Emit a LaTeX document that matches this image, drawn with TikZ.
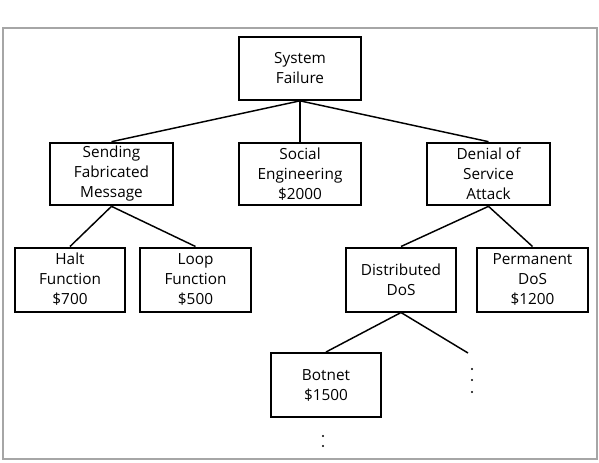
\documentclass[tikz,border=0pt]{standalone}
\usepackage{fontspec}
\setmainfont{Open Sans}
\usepackage{tikz}
\usetikzlibrary{positioning}

\tikzset{
    box/.style={draw, line width=1.5pt, align=center, inner sep=0pt,
        minimum width=83pt, minimum height=48pt,
        font=\fontsize{11.5}{15}\selectfont},
    topbox/.style={box, minimum width=92pt, minimum height=47pt},
    link/.style={line width=1.1pt}
}

\begin{document}
\begin{tikzpicture}[x=0.75pt, y=-0.75pt]
    % 边框
    \useasboundingbox (0,0) rectangle (599,462);
    \draw[gray!70, line width=1pt] (3,28) rectangle (597,459);

    % 第一层
    \node[topbox] (fail) at (300,68.5) {System\\Failure};

    % 第二层
    \node[topbox] (sfm) at (111.5,174) {Sending\\Fabricated\\Message};
    \node[topbox] (soc) at (300,174) {Social\\Engineering\\\$2000};
    \node[topbox] (dos) at (488.5,174) {Denial of\\Service\\Attack};

    % 第三层
    \node[box] (halt) at (70,279.5) {Halt\\Function\\\$700};
    \node[box] (loop) at (195.5,279.5) {Loop\\Function\\\$500};
    \node[box] (ddos) at (401,279.5) {Distributed\\DoS};
    \node[box] (pdos) at (532.5,279.5) {Permanent\\DoS\\\$1200};

    % 第四层
    \node[box] (bot) at (326,385) {Botnet\\\$1500};
    \coordinate (more) at (468,353);

    % 连线
    \draw[link] (fail.south) -- (sfm.north);
    \draw[link] (fail.south) -- (soc.north);
    \draw[link] (fail.south) -- (dos.north);
    \draw[link] (sfm.south) -- (halt.north);
    \draw[link] (sfm.south) -- (loop.north);
    \draw[link] (dos.south) -- (ddos.north);
    \draw[link] (dos.south) -- (pdos.north);
    \draw[link] (ddos.south) -- (bot.north);
    \draw[link] (ddos.south) -- (more);

    % 省略号
    \foreach \y in {369,380,392}
        \fill (472,\y) circle (0.9pt);
    \foreach \y in {436,446}
        \fill (323,\y) circle (0.9pt);
\end{tikzpicture}
\end{document}
